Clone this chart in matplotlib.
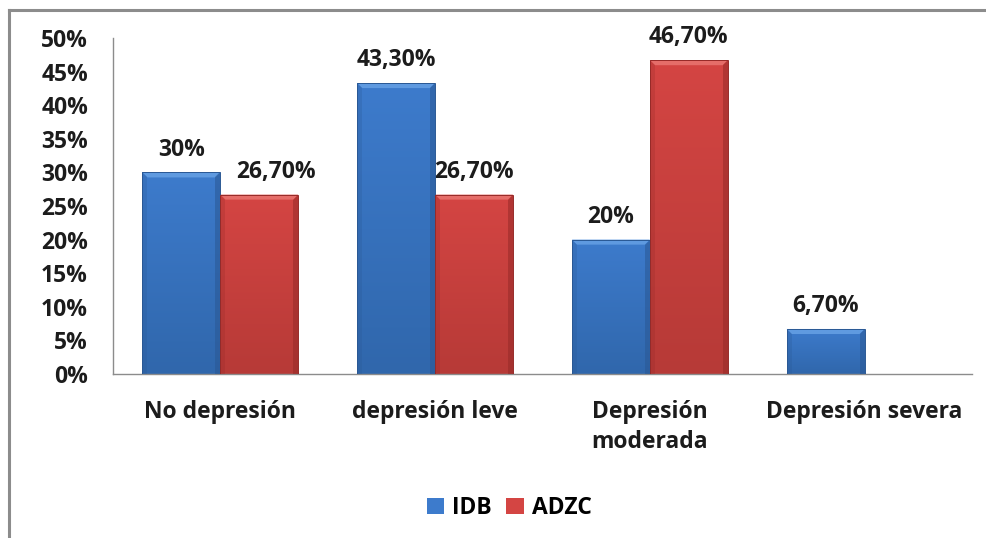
import matplotlib
matplotlib.use("Agg")
import matplotlib.pyplot as plt
from matplotlib.patches import Polygon, Rectangle
from matplotlib.colors import LinearSegmentedColormap
import numpy as np

categories = ["No depresión", "depresión leve", "Depresión\nmoderada", "Depresión severa"]
series_names = ["IDB", "ADZC"]
idb = [30.0, 43.3, 20.0, 6.7]
adzc = [26.7, 26.7, 46.7, 0.0]
idb_labels = ["30%", "43,30%", "20%", "6,70%"]
adzc_labels = ["26,70%", "26,70%", "46,70%", ""]
yticks = [0, 5, 10, 15, 20, 25, 30, 35, 40, 45, 50]

plt.rcParams["font.family"] = ["Open Sans", "DejaVu Sans"]
FS = 16.5
WT = "bold"
TXT = "#1c1c1c"

W, H = 987, 538
fig = plt.figure(figsize=(W / 100, H / 100), dpi=100)

# outer chart frame (top and left edges visible)
fig.add_artist(plt.Line2D([9 / W, 1.0], [1 - 10 / H, 1 - 10 / H], color="#8c8c8c", lw=2.2))
fig.add_artist(plt.Line2D([9 / W, 9 / W], [0.0, 1 - 10 / H], color="#8c8c8c", lw=2.2))

ax = fig.add_axes([113 / W, 1 - 374 / H, (972 - 113) / W, (374 - 38) / H])

x = np.arange(len(categories))
bw = 0.363
# (face, top-bevel, side shade, bottom shade)
colors = {"IDB": ("#3d7bcc", "#5f9ae0", "#2a5894", "#3067ac"),
          "ADZC": ("#d44543", "#e56d69", "#962a28", "#b73a37")}


def bevel(bars, face, light, dark, bottom):
    for b in bars:
        h = b.get_height()
        if h <= 0:
            continue
        x0, y0, w = b.get_x(), b.get_y(), b.get_width()
        x1, y1 = x0 + w, y0 + h
        dx = w * 0.065
        dy = min(h * 0.4, 0.75)
        # subtle vertical gradient in the face
        grad = np.linspace(0, 1, 64).reshape(-1, 1)
        cmap = LinearSegmentedColormap.from_list("g", [bottom, face])
        im = ax.imshow(grad, extent=[x0, x1, y0, y1], origin="lower", aspect="auto",
                       cmap=cmap, zorder=2.5, interpolation="bilinear")
        im.set_clip_path(b)
        # top bevel (lighter)
        ax.add_patch(Polygon([[x0, y1], [x1, y1], [x1 - dx, y1 - dy], [x0 + dx, y1 - dy]],
                             closed=True, facecolor=light, edgecolor="none", zorder=3))
        # right bevel (darker)
        ax.add_patch(Polygon([[x1, y1], [x1, y0], [x1 - dx, y0], [x1 - dx, y1 - dy]],
                             closed=True, facecolor=dark, edgecolor="none", alpha=0.55, zorder=3))
        # left bevel
        ax.add_patch(Polygon([[x0, y1], [x0, y0], [x0 + dx, y0], [x0 + dx, y1 - dy]],
                             closed=True, facecolor=dark, edgecolor="none", alpha=0.25, zorder=3))
        ax.add_patch(Rectangle((x0, y0), w, h, facecolor="none", edgecolor=dark, lw=0.7, zorder=4))


b1 = ax.bar(x - bw / 2, idb, bw, color=colors["IDB"][0], label="IDB", zorder=2)
b2 = ax.bar(x + bw / 2, adzc, bw, color=colors["ADZC"][0], label="ADZC", zorder=2)
bevel(b1, *colors["IDB"])
bevel(b2, *colors["ADZC"])

# value labels; the first ADZC label is nudged right so it clears its neighbour
nudges = {(1, 0): 12}
for si, (bars, labels) in enumerate(((b1, idb_labels), (b2, adzc_labels))):
    for ci, (b, lab) in enumerate(zip(bars, labels)):
        if not lab:
            continue
        ax.annotate(lab, (b.get_x() + b.get_width() / 2, b.get_height() + 1.6),
                    xytext=(nudges.get((si, ci), 0), 0), textcoords="offset points",
                    ha="center", va="bottom", fontsize=FS, fontweight=WT, color=TXT)

ax.set_xlim(-0.5, len(categories) - 0.5)
ax.set_ylim(0, 50)
ax.set_yticks(yticks)
ax.set_yticklabels([f"{v}%" for v in yticks], fontsize=FS, fontweight=WT, color=TXT)
ax.set_xticks(x)
ax.set_xticklabels(categories, fontsize=FS, fontweight=WT, color=TXT, linespacing=1.3)
ax.tick_params(axis="both", length=0)
ax.tick_params(axis="y", pad=18)
ax.tick_params(axis="x", pad=19)
for s in ("top", "right"):
    ax.spines[s].set_visible(False)
for s in ("left", "bottom"):
    ax.spines[s].set_color("#8c8c8c")
    ax.spines[s].set_linewidth(1.0)

leg = fig.legend(handles=[b1, b2], labels=series_names, loc="center",
                 bbox_to_anchor=(509 / W, 1 - 508 / H), ncol=2, frameon=False,
                 prop={"size": FS, "weight": WT}, handlelength=0.75, handleheight=0.75,
                 handletextpad=0.35, columnspacing=0.65)

fig.savefig("out.png", dpi=100, facecolor="white")
